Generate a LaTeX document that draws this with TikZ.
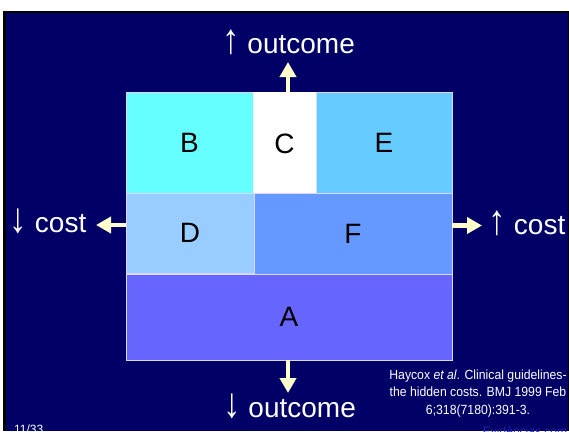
\documentclass[tikz,border=0pt]{standalone}
\usepackage{fontspec}
\setmainfont{Liberation Sans}
\newfontfamily\citef[FakeStretch=0.92]{Liberation Sans}
\usetikzlibrary{arrows.meta}
\definecolor{navy}{HTML}{000066}
\definecolor{boxB}{HTML}{66FFFF}
\definecolor{boxE}{HTML}{66CCFF}
\definecolor{boxD}{HTML}{99CCFF}
\definecolor{boxF}{HTML}{6699FF}
\definecolor{boxA}{HTML}{6666FF}
\definecolor{arrowyel}{HTML}{FFFFCC}
\definecolor{wm}{HTML}{2222AA}
\newcommand{\upar}{\scalebox{1.25}[1.5]{↑}}
\newcommand{\dnar}{\scalebox{1.25}[1.5]{↓}}
\tikzset{
  region/.style={draw=white!85!blue, line width=0.8pt, inner sep=0pt, outer sep=0pt, font=\fontsize{28}{30}\selectfont, text=black},
  bigarrow/.style={draw=arrowyel, line width=4.5pt, -{Triangle[width=16pt,length=15pt]}},
  axislabel/.style={text=white, font=\fontsize{28}{30}\selectfont, inner sep=0pt},
  citetext/.style={text=white, font=\citef\fontsize{13.3}{17.5}\selectfont, align=center, inner sep=0pt}
}
\begin{document}
\begin{tikzpicture}[x=1pt,y=-1pt]
\useasboundingbox (0,0) rectangle (569,431);
\clip (0,0) rectangle (569,431);
\fill[white] (0,0) rectangle (569,431);
\fill[black] (3,10.5) rectangle (569,431);
\fill[navy] (6,12.7) rectangle (568,431);
% regions
\node[region, fill=boxB, minimum width=127pt, minimum height=101pt] (B) at (189.5,142.5) {B};
\node[region, fill=white, draw=white, minimum width=63pt, minimum height=103pt] (C) at (284.5,143.5) {C};
\node[region, fill=boxE, minimum width=136pt, minimum height=101pt] (E) at (384,142.5) {E};
\node[region, fill=boxD, minimum width=128pt, minimum height=80pt] (D) at (190,233) {D};
\node[region, fill=boxF, minimum width=198pt, minimum height=82pt] (F) at (353,234) {F};
\node[region, fill=boxA, minimum width=326pt, minimum height=86pt] (A) at (289,317) {A};
% arrow end points
\coordinate (upTip) at (288,62);
\coordinate (downTip) at (288,393);
\coordinate (leftTip) at (96,225);
\coordinate (rightTip) at (482,225.5);
\draw[bigarrow] (C.north -| upTip) -- (upTip);
\draw[bigarrow] (A.south -| downTip) -- (downTip);
\draw[bigarrow] (D.west |- leftTip) -- (leftTip);
\draw[bigarrow] (F.east |- rightTip) -- (rightTip);
% labels
\node[axislabel] (upL) at (288.5,42) {\upar\ outcome};
\node[axislabel] (downL) at (289.5,406) {\dnar\ outcome};
\node[axislabel] (leftL) at (48,221) {\dnar\ cost};
\node[axislabel] (rightL) at (527,223) {\upar\ cost};
\node[citetext] (cite) at (478,393.5) {Haycox \textit{et al}. Clinical guidelines-\\the hidden costs. BMJ 1999 Feb\\6;318(7180):391-3.};
\node[text=white, font=\fontsize{12}{14}\selectfont, inner sep=0pt, anchor=west] (page) at (14,429) {11/33};
\node[text=wm, font=\fontsize{12}{14}\selectfont, inner sep=0pt] (wmark) at (525,431) {Evidências.com};
\end{tikzpicture}
\end{document}
